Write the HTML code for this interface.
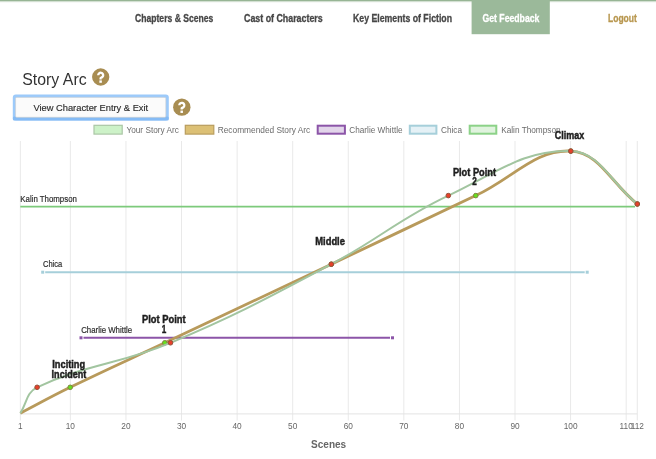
<!DOCTYPE html>
<html><head><meta charset="utf-8"><style>
html,body{margin:0;padding:0;background:#fff;width:656px;height:459px;overflow:hidden}
svg{display:block;font-family:"Liberation Sans",sans-serif;filter:blur(0.25px)}
</style></head><body>
<svg width="656" height="459" viewBox="0 0 656 459" font-family="Liberation Sans, sans-serif">
<rect x="0" y="0" width="656" height="1.2" fill="#97b595"/><rect x="0" y="1.2" width="656" height="1" fill="#97b595" opacity="0.35"/><rect x="471.6" y="0" width="78.2" height="34.2" fill="#9bb99a"/><text x="135.00" y="21.80" font-size="10.3" fill="#474747" font-weight="bold" stroke="#474747" stroke-width="0.3" textLength="78.40" lengthAdjust="spacingAndGlyphs">Chapters &amp; Scenes</text>
<text x="244.00" y="21.80" font-size="10.3" fill="#474747" font-weight="bold" stroke="#474747" stroke-width="0.3" textLength="78.70" lengthAdjust="spacingAndGlyphs">Cast of Characters</text>
<text x="353.00" y="21.80" font-size="10.3" fill="#474747" font-weight="bold" stroke="#474747" stroke-width="0.3" textLength="99.00" lengthAdjust="spacingAndGlyphs">Key Elements of Fiction</text>
<text x="482.50" y="21.80" font-size="10.3" fill="#ffffff" font-weight="bold" stroke="#ffffff" stroke-width="0.3" textLength="56.90" lengthAdjust="spacingAndGlyphs">Get Feedback</text>
<text x="608.00" y="21.80" font-size="10.3" fill="#b8974f" font-weight="bold" stroke="#b8974f" stroke-width="0.3" textLength="28.80" lengthAdjust="spacingAndGlyphs">Logout</text>
<text x="22.30" y="84.90" font-size="16.6" fill="#333333" textLength="64.30" lengthAdjust="spacingAndGlyphs">Story Arc</text>
<circle cx="100.7" cy="77" r="8.65" fill="#a88d52"/><path d="M98.20 75.20 A2.5 2.5 0 1 1 103.03 76.12 Q102.20 77.45 100.60 78.00 L100.60 79.40" fill="none" stroke="#ffffff" stroke-width="2.3" stroke-linejoin="round"/><rect x="99.35" y="80.40" width="2.5" height="2.4" fill="#ffffff"/><rect x="12.8" y="94.6" width="156" height="25.8" rx="3" fill="#9ccafa"/><rect x="12.8" y="116.6" width="156" height="3.8" rx="1.5" fill="#85bbf5"/><rect x="15.6" y="97.4" width="150.2" height="19.9" rx="1" fill="#fbfbfb" stroke="#cfcfcf" stroke-width="0.6"/><text x="33.40" y="111.20" font-size="9.8" fill="#2a2a2a" stroke="#2a2a2a" stroke-width="0.15" textLength="114.80" lengthAdjust="spacingAndGlyphs">View Character Entry &amp; Exit</text>
<circle cx="181.8" cy="107.15" r="8.7" fill="#a88d52"/><path d="M179.30 105.35 A2.5 2.5 0 1 1 184.12 106.28 Q183.30 107.60 181.70 108.15 L181.70 109.55" fill="none" stroke="#ffffff" stroke-width="2.3" stroke-linejoin="round"/><rect x="180.45" y="110.55" width="2.5" height="2.4" fill="#ffffff"/><rect x="94.00" y="125.30" width="28.20" height="8.80" fill="#cdf2c8" stroke="#abc6a6" stroke-width="1.2"/><text x="126.50" y="133.20" font-size="8.7" fill="#6b6b6b" textLength="52.25" lengthAdjust="spacingAndGlyphs">Your Story Arc</text>
<rect x="185.30" y="125.30" width="28.50" height="8.80" fill="#dcc075" stroke="#b99d5e" stroke-width="1.2"/><text x="217.70" y="133.20" font-size="8.7" fill="#6b6b6b" textLength="92.60" lengthAdjust="spacingAndGlyphs">Recommended Story Arc</text>
<rect x="317.70" y="125.70" width="27.20" height="8.00" fill="#e2d5ea" stroke="#8c55a8" stroke-width="2"/><text x="349.30" y="133.20" font-size="8.7" fill="#6b6b6b" textLength="53.30" lengthAdjust="spacingAndGlyphs">Charlie Whittle</text>
<rect x="409.80" y="125.70" width="26.60" height="8.00" fill="#e5f1f6" stroke="#a6cfda" stroke-width="2"/><text x="441.00" y="133.20" font-size="8.7" fill="#6b6b6b" textLength="21.00" lengthAdjust="spacingAndGlyphs">Chica</text>
<rect x="469.70" y="125.70" width="26.60" height="8.00" fill="#e0f3de" stroke="#8cd288" stroke-width="2"/><text x="501.20" y="133.20" font-size="8.7" fill="#6b6b6b" textLength="59.40" lengthAdjust="spacingAndGlyphs">Kalin Thompson</text>
<line x1="20.35" y1="141" x2="20.35" y2="420.5" stroke="#e9e9e9" stroke-width="1"/><text x="20.35" y="428.6" font-size="8.3" fill="#666666" text-anchor="middle">1</text><line x1="70.37" y1="141" x2="70.37" y2="420.5" stroke="#e9e9e9" stroke-width="1"/><text x="70.37" y="428.6" font-size="8.3" fill="#666666" text-anchor="middle">10</text><line x1="125.95" y1="141" x2="125.95" y2="420.5" stroke="#e9e9e9" stroke-width="1"/><text x="125.95" y="428.6" font-size="8.3" fill="#666666" text-anchor="middle">20</text><line x1="181.53" y1="141" x2="181.53" y2="420.5" stroke="#e9e9e9" stroke-width="1"/><text x="181.53" y="428.6" font-size="8.3" fill="#666666" text-anchor="middle">30</text><line x1="237.11" y1="141" x2="237.11" y2="420.5" stroke="#e9e9e9" stroke-width="1"/><text x="237.11" y="428.6" font-size="8.3" fill="#666666" text-anchor="middle">40</text><line x1="292.69" y1="141" x2="292.69" y2="420.5" stroke="#e9e9e9" stroke-width="1"/><text x="292.69" y="428.6" font-size="8.3" fill="#666666" text-anchor="middle">50</text><line x1="348.27" y1="141" x2="348.27" y2="420.5" stroke="#e9e9e9" stroke-width="1"/><text x="348.27" y="428.6" font-size="8.3" fill="#666666" text-anchor="middle">60</text><line x1="403.85" y1="141" x2="403.85" y2="420.5" stroke="#e9e9e9" stroke-width="1"/><text x="403.85" y="428.6" font-size="8.3" fill="#666666" text-anchor="middle">70</text><line x1="459.43" y1="141" x2="459.43" y2="420.5" stroke="#e9e9e9" stroke-width="1"/><text x="459.43" y="428.6" font-size="8.3" fill="#666666" text-anchor="middle">80</text><line x1="515.01" y1="141" x2="515.01" y2="420.5" stroke="#e9e9e9" stroke-width="1"/><text x="515.01" y="428.6" font-size="8.3" fill="#666666" text-anchor="middle">90</text><line x1="570.59" y1="141" x2="570.59" y2="420.5" stroke="#e9e9e9" stroke-width="1"/><text x="570.59" y="428.6" font-size="8.3" fill="#666666" text-anchor="middle">100</text><line x1="626.17" y1="141" x2="626.17" y2="420.5" stroke="#e9e9e9" stroke-width="1"/><text x="626.17" y="428.6" font-size="8.3" fill="#666666" text-anchor="middle">110</text><line x1="637.29" y1="141" x2="637.29" y2="420.5" stroke="#e9e9e9" stroke-width="1"/><text x="637.29" y="428.6" font-size="8.3" fill="#666666" text-anchor="middle">112</text><line x1="20.35" y1="413.9" x2="637.29" y2="413.9" stroke="#e3e3e3" stroke-width="1"/><text x="311.00" y="447.60" font-size="10.5" fill="#666666" font-weight="bold" textLength="35.20" lengthAdjust="spacingAndGlyphs">Scenes</text>
<line x1="20.3" y1="206.6" x2="635" y2="206.6" stroke="#7dca7b" stroke-width="1.7"/><line x1="45.20" y1="272.2" x2="584.70" y2="272.2" stroke="#a6cfda" stroke-width="2"/><rect x="41.20" y="270.70" width="3" height="3" fill="#a6cfda"/><rect x="585.70" y="270.70" width="3" height="3" fill="#a6cfda"/><line x1="83.50" y1="337.8" x2="390.00" y2="337.8" stroke="#8c55a8" stroke-width="2"/><rect x="79.50" y="336.30" width="3" height="3" fill="#8c55a8"/><rect x="391.00" y="336.30" width="3" height="3" fill="#8c55a8"/><text x="20.30" y="201.90" font-size="9.6" fill="#2c2c2c" stroke="#2c2c2c" stroke-width="0.2" textLength="56.60" lengthAdjust="spacingAndGlyphs">Kalin Thompson</text>
<text x="43.00" y="267.00" font-size="9.2" fill="#2c2c2c" stroke="#2c2c2c" stroke-width="0.2" textLength="19.20" lengthAdjust="spacingAndGlyphs">Chica</text>
<text x="81.20" y="333.30" font-size="9.2" fill="#2c2c2c" stroke="#2c2c2c" stroke-width="0.2" textLength="51.00" lengthAdjust="spacingAndGlyphs">Charlie Whittle</text>
<path d="M20.35 413.20 C40.29 402.84 50.00 397.14 70.20 387.30 C107.78 368.98 126.98 360.63 164.80 342.80 C231.42 311.39 264.73 295.71 331.30 264.20 C389.11 236.83 417.91 222.91 475.75 195.60 C513.71 177.67 535.09 149.24 570.80 151.10 C599.71 152.60 610.70 182.84 637.30 204.00" fill="none" stroke="#b89a5b" stroke-width="2.8"/><circle cx="70.20" cy="387.30" r="2.3" fill="#66e01e" stroke="#7f8440" stroke-width="1"/><circle cx="164.80" cy="342.80" r="2.3" fill="#66e01e" stroke="#7f8440" stroke-width="1"/><circle cx="331.30" cy="264.20" r="2.3" fill="#66e01e" stroke="#7f8440" stroke-width="1"/><circle cx="475.75" cy="195.60" r="2.3" fill="#66e01e" stroke="#7f8440" stroke-width="1"/><circle cx="570.80" cy="151.10" r="2.3" fill="#66e01e" stroke="#7f8440" stroke-width="1"/><circle cx="637.30" cy="204.00" r="2.3" fill="#66e01e" stroke="#7f8440" stroke-width="1"/><path d="M20.35 413.20 C27.05 402.84 26.30 392.37 37.10 387.30 C86.36 364.21 118.72 364.47 170.50 342.80 C236.40 315.23 268.08 297.70 331.30 264.20 C379.20 238.82 399.45 218.67 448.30 195.60 C495.25 173.43 525.04 149.07 570.80 151.10 C600.64 152.43 610.70 182.84 637.30 204.00" fill="none" stroke="#a2c5a0" stroke-width="2"/><circle cx="37.10" cy="387.30" r="2.3" fill="#e8402a" stroke="#94503a" stroke-width="1"/><circle cx="170.50" cy="342.80" r="2.3" fill="#e8402a" stroke="#94503a" stroke-width="1"/><circle cx="331.30" cy="264.20" r="2.3" fill="#e8402a" stroke="#94503a" stroke-width="1"/><circle cx="448.30" cy="195.60" r="2.3" fill="#e8402a" stroke="#94503a" stroke-width="1"/><circle cx="570.80" cy="151.10" r="2.3" fill="#e8402a" stroke="#94503a" stroke-width="1"/><circle cx="637.30" cy="204.00" r="2.3" fill="#e8402a" stroke="#94503a" stroke-width="1"/><text x="52.30" y="368.40" font-size="10.2" fill="#1e1e1e" font-weight="bold" stroke="#1e1e1e" stroke-width="0.45" textLength="32.80" lengthAdjust="spacingAndGlyphs">Inciting</text>
<text x="51.60" y="377.50" font-size="10.2" fill="#1e1e1e" font-weight="bold" stroke="#1e1e1e" stroke-width="0.45" textLength="34.70" lengthAdjust="spacingAndGlyphs">Incident</text>
<text x="142.00" y="323.40" font-size="10.2" fill="#1e1e1e" font-weight="bold" stroke="#1e1e1e" stroke-width="0.45" textLength="43.60" lengthAdjust="spacingAndGlyphs">Plot Point</text>
<text x="164.1" y="332.6" font-size="10.2" font-weight="bold" fill="#1e1e1e" stroke="#1e1e1e" stroke-width="0.45" text-anchor="middle" transform="translate(164.1 0) scale(0.8 1) translate(-164.1 0)">1</text><text x="315.30" y="245.30" font-size="10.2" fill="#1e1e1e" font-weight="bold" stroke="#1e1e1e" stroke-width="0.45" textLength="29.60" lengthAdjust="spacingAndGlyphs">Middle</text>
<text x="452.90" y="176.40" font-size="10.2" fill="#1e1e1e" font-weight="bold" stroke="#1e1e1e" stroke-width="0.45" textLength="43.10" lengthAdjust="spacingAndGlyphs">Plot Point</text>
<text x="474.4" y="185.2" font-size="10.2" font-weight="bold" fill="#1e1e1e" stroke="#1e1e1e" stroke-width="0.45" text-anchor="middle" transform="translate(474.4 0) scale(0.8 1) translate(-474.4 0)">2</text><text x="554.80" y="138.90" font-size="10.2" fill="#1e1e1e" font-weight="bold" stroke="#1e1e1e" stroke-width="0.45" textLength="29.40" lengthAdjust="spacingAndGlyphs">Climax</text>

</svg>
</body></html>
